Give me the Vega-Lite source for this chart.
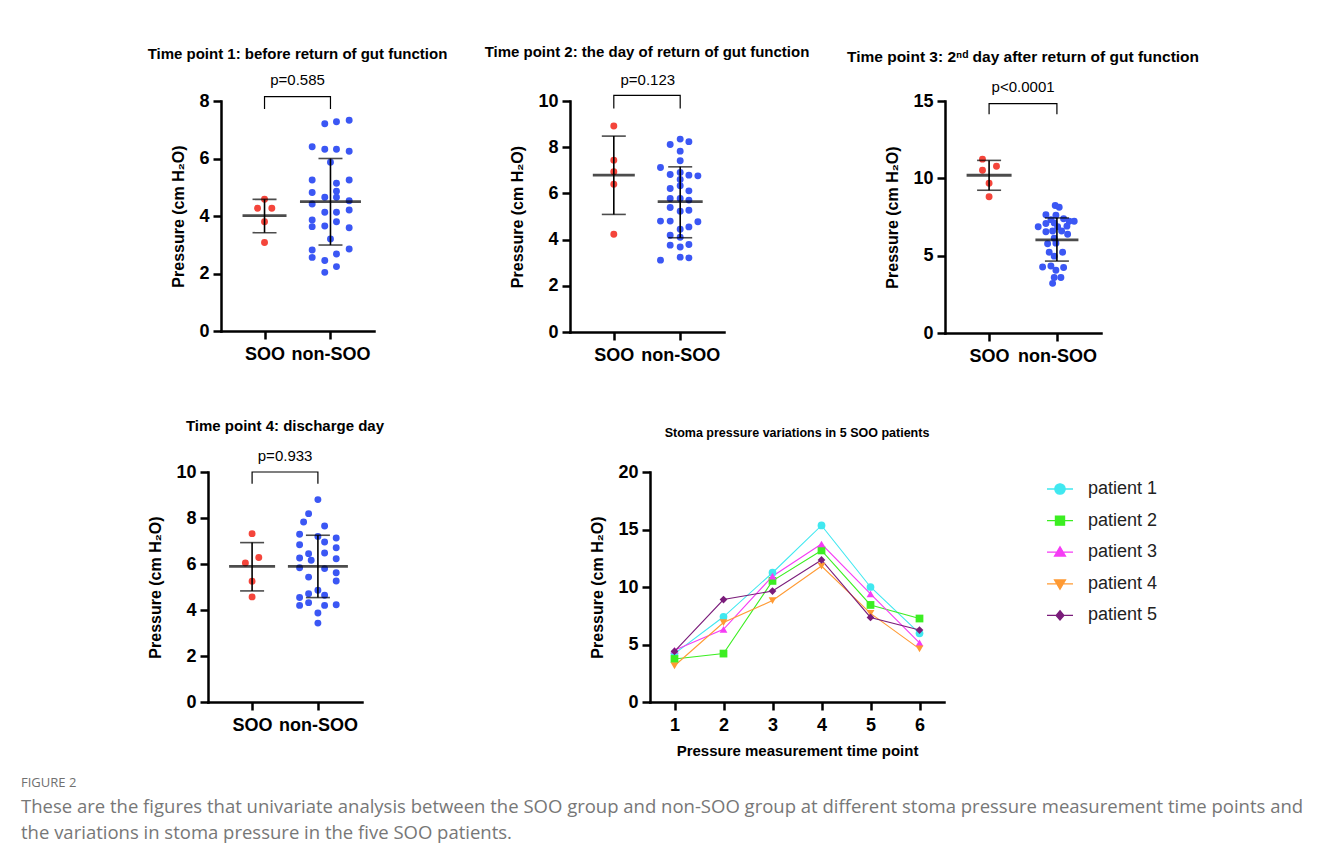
{
  "$schema": "https://vega.github.io/schema/vega-lite/v6.json",
  "background": "white",
  "padding": {"left": 21, "top": 44, "right": 5, "bottom": 5},
  "title": {
    "text": "FIGURE 2",
    "subtitle": ["These are the figures that univariate analysis between the SOO group and non-SOO group at different stoma pressure measurement time points and", "the variations in stoma pressure in the five SOO patients."],
    "orient": "bottom", "anchor": "start", "frame": "bounds", "dx": -125, "offset": 19,
    "font": "Open Sans", "fontSize": 13, "fontWeight": "normal", "color": "#707070",
    "subtitleFont": "Open Sans", "subtitleFontSize": 18.5, "subtitleColor": "#777777", "subtitleLineHeight": 26, "subtitlePadding": 8
  },
  "datasets": {
    "p1": [
      {"group": "SOO", "col": 0, "value": 4.58}, {"group": "SOO", "col": -0.7, "value": 4.27}, {"group": "SOO", "col": 0.73, "value": 4.27}, {"group": "SOO", "col": 0, "value": 3.8}, {"group": "SOO", "col": 0, "value": 3.08},
      {"group": "non-SOO", "col": -0.57, "value": 7.21}, {"group": "non-SOO", "col": 0.6, "value": 7.28}, {"group": "non-SOO", "col": 1.87, "value": 7.33},
      {"group": "non-SOO", "col": -1.83, "value": 6.41}, {"group": "non-SOO", "col": -0.57, "value": 6.32}, {"group": "non-SOO", "col": 0.6, "value": 6.32}, {"group": "non-SOO", "col": 1.87, "value": 6.25},
      {"group": "non-SOO", "col": 0, "value": 5.87},
      {"group": "non-SOO", "col": -1.83, "value": 5.25}, {"group": "non-SOO", "col": 0.6, "value": 5.14}, {"group": "non-SOO", "col": 1.87, "value": 5.25},
      {"group": "non-SOO", "col": -1.83, "value": 4.82}, {"group": "non-SOO", "col": 0.6, "value": 4.86},
      {"group": "non-SOO", "col": -0.57, "value": 4.65}, {"group": "non-SOO", "col": 0.6, "value": 4.65},
      {"group": "non-SOO", "col": -1.83, "value": 4.42}, {"group": "non-SOO", "col": 1.87, "value": 4.53},
      {"group": "non-SOO", "col": 1.87, "value": 4.21}, {"group": "non-SOO", "col": -0.57, "value": 4.13}, {"group": "non-SOO", "col": 0.6, "value": 4.13},
      {"group": "non-SOO", "col": -1.83, "value": 3.86}, {"group": "non-SOO", "col": 0.6, "value": 3.8},
      {"group": "non-SOO", "col": -1.83, "value": 3.63}, {"group": "non-SOO", "col": -0.57, "value": 3.65}, {"group": "non-SOO", "col": 1.87, "value": 3.59},
      {"group": "non-SOO", "col": 0, "value": 3.2},
      {"group": "non-SOO", "col": -1.83, "value": 2.82}, {"group": "non-SOO", "col": 1.87, "value": 2.85},
      {"group": "non-SOO", "col": -1.83, "value": 2.56}, {"group": "non-SOO", "col": 0.6, "value": 2.68},
      {"group": "non-SOO", "col": -0.57, "value": 2.45}, {"group": "non-SOO", "col": 0.6, "value": 2.24}, {"group": "non-SOO", "col": -0.57, "value": 2.04}
    ],
    "p1s": [{"group": "SOO", "mean": 4.01, "lo": 3.42, "hi": 4.58}, {"group": "non-SOO", "mean": 4.5, "lo": 2.99, "hi": 6.0}],
    "p1b": [{"group": "SOO", "level": 7.72, "ord": 1}, {"group": "SOO", "level": 8.15, "ord": 2}, {"group": "non-SOO", "level": 8.15, "ord": 3}, {"group": "non-SOO", "level": 7.72, "ord": 4}],
    "p1t": [{"group": "SOO", "level": 8.73, "label": "p=0.585"}],
    "p2": [
      {"group": "SOO", "col": 0, "value": 8.92}, {"group": "SOO", "col": 0, "value": 7.44}, {"group": "SOO", "col": 0, "value": 6.94}, {"group": "SOO", "col": 0, "value": 6.4}, {"group": "SOO", "col": 0, "value": 4.23},
      {"group": "non-SOO", "col": 0, "value": 8.35}, {"group": "non-SOO", "col": 0.87, "value": 8.24}, {"group": "non-SOO", "col": -1.0, "value": 8.12}, {"group": "non-SOO", "col": 0, "value": 7.83},
      {"group": "non-SOO", "col": 0, "value": 7.41},
      {"group": "non-SOO", "col": -1.97, "value": 7.12}, {"group": "non-SOO", "col": -1.0, "value": 6.82}, {"group": "non-SOO", "col": 0, "value": 6.91}, {"group": "non-SOO", "col": 0.87, "value": 6.79}, {"group": "non-SOO", "col": 1.77, "value": 6.76},
      {"group": "non-SOO", "col": 0, "value": 6.6},
      {"group": "non-SOO", "col": 0, "value": 6.33}, {"group": "non-SOO", "col": -1.0, "value": 6.21}, {"group": "non-SOO", "col": 0.87, "value": 6.11},
      {"group": "non-SOO", "col": -1.0, "value": 5.78}, {"group": "non-SOO", "col": 0, "value": 5.78}, {"group": "non-SOO", "col": 0.87, "value": 5.71},
      {"group": "non-SOO", "col": -1.0, "value": 5.39}, {"group": "non-SOO", "col": 0.87, "value": 5.27}, {"group": "non-SOO", "col": 0, "value": 5.23},
      {"group": "non-SOO", "col": -1.97, "value": 4.8}, {"group": "non-SOO", "col": -1.0, "value": 4.8}, {"group": "non-SOO", "col": 1.77, "value": 4.77},
      {"group": "non-SOO", "col": 0, "value": 4.45}, {"group": "non-SOO", "col": 0.87, "value": 4.55},
      {"group": "non-SOO", "col": -1.0, "value": 4.19}, {"group": "non-SOO", "col": 0, "value": 4.1},
      {"group": "non-SOO", "col": -1.0, "value": 3.76}, {"group": "non-SOO", "col": 0, "value": 3.68}, {"group": "non-SOO", "col": 0.87, "value": 3.79},
      {"group": "non-SOO", "col": -1.97, "value": 3.11}, {"group": "non-SOO", "col": 0, "value": 3.24}, {"group": "non-SOO", "col": 0.87, "value": 3.21}
    ],
    "p2s": [{"group": "SOO", "mean": 6.79, "lo": 5.09, "hi": 8.48}, {"group": "non-SOO", "mean": 5.64, "lo": 4.08, "hi": 7.15}],
    "p2b": [{"group": "SOO", "level": 9.68, "ord": 1}, {"group": "SOO", "level": 10.24, "ord": 2}, {"group": "non-SOO", "level": 10.24, "ord": 3}, {"group": "non-SOO", "level": 9.68, "ord": 4}],
    "p2t": [{"group": "SOO", "level": 10.91, "label": "p=0.123"}],
    "p3": [
      {"group": "SOO", "col": -0.66, "value": 11.24}, {"group": "SOO", "col": -0.66, "value": 10.52}, {"group": "SOO", "col": 0.74, "value": 10.78}, {"group": "SOO", "col": 0, "value": 9.68}, {"group": "SOO", "col": 0, "value": 8.81},
      {"group": "non-SOO", "col": -0.17, "value": 8.24}, {"group": "non-SOO", "col": 0.23, "value": 8.13},
      {"group": "non-SOO", "col": -1.1, "value": 7.65}, {"group": "non-SOO", "col": -0.1, "value": 7.61},
      {"group": "non-SOO", "col": -0.6, "value": 7.33}, {"group": "non-SOO", "col": 0.67, "value": 7.39}, {"group": "non-SOO", "col": 1.73, "value": 7.23}, {"group": "non-SOO", "col": 1.23, "value": 7.23},
      {"group": "non-SOO", "col": -1.1, "value": 7.08}, {"group": "non-SOO", "col": -0.27, "value": 7.12},
      {"group": "non-SOO", "col": -1.87, "value": 6.87}, {"group": "non-SOO", "col": 0.07, "value": 6.87}, {"group": "non-SOO", "col": 1.0, "value": 6.91},
      {"group": "non-SOO", "col": -1.1, "value": 6.55}, {"group": "non-SOO", "col": -0.43, "value": 6.59}, {"group": "non-SOO", "col": 0.47, "value": 6.59},
      {"group": "non-SOO", "col": 1.07, "value": 6.38},
      {"group": "non-SOO", "col": -0.27, "value": 6.13},
      {"group": "non-SOO", "col": -0.93, "value": 5.77}, {"group": "non-SOO", "col": -0.1, "value": 5.81},
      {"group": "non-SOO", "col": -0.77, "value": 5.22}, {"group": "non-SOO", "col": 0.57, "value": 5.22},
      {"group": "non-SOO", "col": -0.27, "value": 4.97},
      {"group": "non-SOO", "col": -0.6, "value": 4.33}, {"group": "non-SOO", "col": -1.43, "value": 4.27}, {"group": "non-SOO", "col": 0.67, "value": 4.23},
      {"group": "non-SOO", "col": -0.1, "value": 4.06},
      {"group": "non-SOO", "col": -0.27, "value": 3.59}, {"group": "non-SOO", "col": 0.4, "value": 3.59},
      {"group": "non-SOO", "col": -0.43, "value": 3.21}
    ],
    "p3s": [{"group": "SOO", "mean": 10.2, "lo": 9.23, "hi": 11.16}, {"group": "non-SOO", "mean": 6.02, "lo": 4.65, "hi": 7.44}],
    "p3b": [{"group": "SOO", "level": 14.15, "ord": 1}, {"group": "SOO", "level": 14.83, "ord": 2}, {"group": "non-SOO", "level": 14.83, "ord": 3}, {"group": "non-SOO", "level": 14.15, "ord": 4}],
    "p3t": [{"group": "SOO", "level": 15.88, "label": "p<0.0001"}],
    "p4": [
      {"group": "SOO", "col": 0, "value": 7.32}, {"group": "SOO", "col": -0.67, "value": 6.04}, {"group": "SOO", "col": 0.67, "value": 6.28}, {"group": "SOO", "col": 0, "value": 5.25}, {"group": "SOO", "col": 0, "value": 4.57},
      {"group": "non-SOO", "col": 0, "value": 8.8},
      {"group": "non-SOO", "col": -0.93, "value": 8.19},
      {"group": "non-SOO", "col": -1.43, "value": 7.83}, {"group": "non-SOO", "col": 0.67, "value": 7.65},
      {"group": "non-SOO", "col": -1.83, "value": 7.29}, {"group": "non-SOO", "col": 0, "value": 7.2}, {"group": "non-SOO", "col": 1.83, "value": 7.13},
      {"group": "non-SOO", "col": -1.83, "value": 6.84}, {"group": "non-SOO", "col": 0.67, "value": 6.96},
      {"group": "non-SOO", "col": 1.83, "value": 6.71},
      {"group": "non-SOO", "col": -0.93, "value": 6.45}, {"group": "non-SOO", "col": 0.67, "value": 6.48},
      {"group": "non-SOO", "col": -1.83, "value": 6.26}, {"group": "non-SOO", "col": 1.83, "value": 6.23},
      {"group": "non-SOO", "col": -0.67, "value": 6.16},
      {"group": "non-SOO", "col": 0.67, "value": 5.8}, {"group": "non-SOO", "col": -1.83, "value": 5.84}, {"group": "non-SOO", "col": 1.83, "value": 5.62},
      {"group": "non-SOO", "col": -0.93, "value": 5.43}, {"group": "non-SOO", "col": 1.83, "value": 5.26},
      {"group": "non-SOO", "col": 0, "value": 4.86},
      {"group": "non-SOO", "col": -0.93, "value": 4.71},
      {"group": "non-SOO", "col": -1.83, "value": 4.54}, {"group": "non-SOO", "col": 0.67, "value": 4.64},
      {"group": "non-SOO", "col": -0.93, "value": 4.32},
      {"group": "non-SOO", "col": -1.83, "value": 4.2}, {"group": "non-SOO", "col": 0.67, "value": 4.2}, {"group": "non-SOO", "col": 1.83, "value": 4.23},
      {"group": "non-SOO", "col": 0, "value": 3.87},
      {"group": "non-SOO", "col": 0, "value": 3.43}
    ],
    "p4s": [{"group": "SOO", "mean": 5.9, "lo": 4.83, "hi": 6.93}, {"group": "non-SOO", "mean": 5.9, "lo": 4.54, "hi": 7.25}],
    "p4b": [{"group": "SOO", "level": 9.49, "ord": 1}, {"group": "SOO", "level": 10.0, "ord": 2}, {"group": "non-SOO", "level": 10.0, "ord": 3}, {"group": "non-SOO", "level": 9.49, "ord": 4}],
    "p4t": [{"group": "SOO", "level": 10.68, "label": "p=0.933"}],
    "p5": [
      {"patient": "patient 1", "id": 1, "time": 1, "value": 4.21}, {"patient": "patient 1", "id": 1, "time": 2, "value": 7.41}, {"patient": "patient 1", "id": 1, "time": 3, "value": 11.24}, {"patient": "patient 1", "id": 1, "time": 4, "value": 15.35}, {"patient": "patient 1", "id": 1, "time": 5, "value": 10.0}, {"patient": "patient 1", "id": 1, "time": 6, "value": 5.97},
      {"patient": "patient 2", "id": 2, "time": 1, "value": 3.74}, {"patient": "patient 2", "id": 2, "time": 2, "value": 4.21}, {"patient": "patient 2", "id": 2, "time": 3, "value": 10.53}, {"patient": "patient 2", "id": 2, "time": 4, "value": 13.18}, {"patient": "patient 2", "id": 2, "time": 5, "value": 8.44}, {"patient": "patient 2", "id": 2, "time": 6, "value": 7.26},
      {"patient": "patient 3", "id": 3, "time": 1, "value": 4.5}, {"patient": "patient 3", "id": 3, "time": 2, "value": 6.32}, {"patient": "patient 3", "id": 3, "time": 3, "value": 10.94}, {"patient": "patient 3", "id": 3, "time": 4, "value": 13.74}, {"patient": "patient 3", "id": 3, "time": 5, "value": 9.41}, {"patient": "patient 3", "id": 3, "time": 6, "value": 5.15},
      {"patient": "patient 4", "id": 4, "time": 1, "value": 3.15}, {"patient": "patient 4", "id": 4, "time": 2, "value": 6.91}, {"patient": "patient 4", "id": 4, "time": 3, "value": 8.82}, {"patient": "patient 4", "id": 4, "time": 4, "value": 11.82}, {"patient": "patient 4", "id": 4, "time": 5, "value": 7.71}, {"patient": "patient 4", "id": 4, "time": 6, "value": 4.62},
      {"patient": "patient 5", "id": 5, "time": 1, "value": 4.41}, {"patient": "patient 5", "id": 5, "time": 2, "value": 8.91}, {"patient": "patient 5", "id": 5, "time": 3, "value": 9.65}, {"patient": "patient 5", "id": 5, "time": 4, "value": 12.35}, {"patient": "patient 5", "id": 5, "time": 5, "value": 7.35}, {"patient": "patient 5", "id": 5, "time": 6, "value": 6.26}
    ]
  },
  "columns": 1,
  "align": "none",
  "spacing": 54,
  "concat": [
    {
      "spacing": 0,
      "hconcat": [
        {"width": 1, "height": 1, "data": {"values": []}, "mark": "point", "encoding": {}},
        {
          "spacing": 36,
          "hconcat": [
            {
              "width": 153, "height": 230,
              "title": {"text": "Time point 1: before return of gut function", "frame": "group", "offset": 11},
              "layer": [
                {"data": {"name": "p1"}, "mark": {"type": "circle", "size": 48, "opacity": 1},
                 "encoding": {
                   "x": {"field": "group", "type": "nominal", "scale": {"type": "point", "domain": ["SOO", "non-SOO"], "padding": 0.66}, "axis": {"title": null, "labelAngle": 0, "labelPadding": 6}},
                   "xOffset": {"field": "col", "type": "quantitative", "scale": {"domain": [-1, 1], "range": [-10, 10]}},
                   "y": {"field": "value", "type": "quantitative", "scale": {"domain": [0, 8], "nice": false}, "axis": {"values": [0, 2, 4, 6, 8], "title": "Pressure  (cm H₂O)"}},
                   "color": {"condition": {"test": "datum.group === 'SOO'", "value": "#F4453B"}, "value": "#3B57F4"}}},
                {"data": {"name": "p1s"}, "mark": {"type": "rule", "color": "black", "strokeWidth": 1.6},
                 "encoding": {"x": {"field": "group", "type": "nominal"}, "y": {"field": "lo", "type": "quantitative"}, "y2": {"field": "hi"}}},
                {"data": {"name": "p1s"}, "mark": {"type": "tick", "color": "black", "thickness": 2.8},
                 "encoding": {"x": {"field": "group", "type": "nominal"}, "y": {"field": "mean", "type": "quantitative"}, "size": {"condition": {"test": "datum.group === 'non-SOO'", "value": 61}, "value": 44}}},
                {"data": {"name": "p1s"}, "mark": {"type": "tick", "color": "black", "thickness": 1.6, "size": 24},
                 "encoding": {"x": {"field": "group", "type": "nominal"}, "y": {"field": "lo", "type": "quantitative"}}},
                {"data": {"name": "p1s"}, "mark": {"type": "tick", "color": "black", "thickness": 1.6, "size": 24},
                 "encoding": {"x": {"field": "group", "type": "nominal"}, "y": {"field": "hi", "type": "quantitative"}}},
                {"data": {"name": "p1b"}, "mark": {"type": "line", "color": "black", "strokeWidth": 1.2},
                 "encoding": {"x": {"field": "group", "type": "nominal"}, "y": {"field": "level", "type": "quantitative"}, "order": {"field": "ord"}}},
                {"data": {"name": "p1t"}, "mark": {"type": "text", "dx": 33, "fontSize": 15, "font": "Liberation Sans", "baseline": "middle", "color": "black"},
                 "encoding": {"x": {"field": "group", "type": "nominal"}, "y": {"field": "level", "type": "quantitative"}, "text": {"field": "label"}}}
              ]
            },
            {
              "width": 154, "height": 231,
              "title": {"text": "Time point 2: the day of return of gut function", "frame": "group", "offset": 13},
              "layer": [
                {"data": {"name": "p2"}, "mark": {"type": "circle", "size": 48, "opacity": 1},
                 "encoding": {
                   "x": {"field": "group", "type": "nominal", "scale": {"type": "point", "domain": ["SOO", "non-SOO"], "padding": 0.66}, "axis": {"title": null, "labelAngle": 0, "labelPadding": 6}},
                   "xOffset": {"field": "col", "type": "quantitative", "scale": {"domain": [-1, 1], "range": [-10, 10]}},
                   "y": {"field": "value", "type": "quantitative", "scale": {"domain": [0, 10], "nice": false}, "axis": {"values": [0, 2, 4, 6, 8, 10], "title": "Pressure  (cm H₂O)"}},
                   "color": {"condition": {"test": "datum.group === 'SOO'", "value": "#F4453B"}, "value": "#3B57F4"}}},
                {"data": {"name": "p2s"}, "mark": {"type": "rule", "color": "black", "strokeWidth": 1.6},
                 "encoding": {"x": {"field": "group", "type": "nominal"}, "y": {"field": "lo", "type": "quantitative"}, "y2": {"field": "hi"}}},
                {"data": {"name": "p2s"}, "mark": {"type": "tick", "color": "black", "thickness": 2.8},
                 "encoding": {"x": {"field": "group", "type": "nominal"}, "y": {"field": "mean", "type": "quantitative"}, "size": {"condition": {"test": "datum.group === 'non-SOO'", "value": 45}, "value": 42}}},
                {"data": {"name": "p2s"}, "mark": {"type": "tick", "color": "black", "thickness": 1.6, "size": 24},
                 "encoding": {"x": {"field": "group", "type": "nominal"}, "y": {"field": "lo", "type": "quantitative"}}},
                {"data": {"name": "p2s"}, "mark": {"type": "tick", "color": "black", "thickness": 1.6, "size": 24},
                 "encoding": {"x": {"field": "group", "type": "nominal"}, "y": {"field": "hi", "type": "quantitative"}}},
                {"data": {"name": "p2b"}, "mark": {"type": "line", "color": "black", "strokeWidth": 1.2},
                 "encoding": {"x": {"field": "group", "type": "nominal"}, "y": {"field": "level", "type": "quantitative"}, "order": {"field": "ord"}}},
                {"data": {"name": "p2t"}, "mark": {"type": "text", "dx": 34, "fontSize": 15, "font": "Liberation Sans", "baseline": "middle", "color": "black"},
                 "encoding": {"x": {"field": "group", "type": "nominal"}, "y": {"field": "level", "type": "quantitative"}, "text": {"field": "label"}}}
              ]
            },
            {
              "width": 156, "height": 232,
              "title": {"text": "Time point 3: 2ⁿᵈ day after return of gut function", "frame": "group", "offset": 15, "fontSize": 15.5},
              "layer": [
                {"data": {"name": "p3"}, "mark": {"type": "circle", "size": 48, "opacity": 1},
                 "encoding": {
                   "x": {"field": "group", "type": "nominal", "scale": {"type": "point", "domain": ["SOO", "non-SOO"], "padding": 0.65}, "axis": {"title": null, "labelAngle": 0, "labelPadding": 6}},
                   "xOffset": {"field": "col", "type": "quantitative", "scale": {"domain": [-1, 1], "range": [-10, 10]}},
                   "y": {"field": "value", "type": "quantitative", "scale": {"domain": [0, 15], "nice": false}, "axis": {"values": [0, 5, 10, 15], "title": "Pressure  (cm H₂O)"}},
                   "color": {"condition": {"test": "datum.group === 'SOO'", "value": "#F4453B"}, "value": "#3B57F4"}}},
                {"data": {"name": "p3s"}, "mark": {"type": "rule", "color": "black", "strokeWidth": 1.6},
                 "encoding": {"x": {"field": "group", "type": "nominal"}, "y": {"field": "lo", "type": "quantitative"}, "y2": {"field": "hi"}}},
                {"data": {"name": "p3s"}, "mark": {"type": "tick", "color": "black", "thickness": 2.8},
                 "encoding": {"x": {"field": "group", "type": "nominal"}, "y": {"field": "mean", "type": "quantitative"}, "size": {"condition": {"test": "datum.group === 'non-SOO'", "value": 43}, "value": 45}}},
                {"data": {"name": "p3s"}, "mark": {"type": "tick", "color": "black", "thickness": 1.6, "size": 24},
                 "encoding": {"x": {"field": "group", "type": "nominal"}, "y": {"field": "lo", "type": "quantitative"}}},
                {"data": {"name": "p3s"}, "mark": {"type": "tick", "color": "black", "thickness": 1.6, "size": 24},
                 "encoding": {"x": {"field": "group", "type": "nominal"}, "y": {"field": "hi", "type": "quantitative"}}},
                {"data": {"name": "p3b"}, "mark": {"type": "line", "color": "black", "strokeWidth": 1.2},
                 "encoding": {"x": {"field": "group", "type": "nominal"}, "y": {"field": "level", "type": "quantitative"}, "order": {"field": "ord"}}},
                {"data": {"name": "p3t"}, "mark": {"type": "text", "dx": 34, "fontSize": 15, "font": "Liberation Sans", "baseline": "middle", "color": "black"},
                 "encoding": {"x": {"field": "group", "type": "nominal"}, "y": {"field": "level", "type": "quantitative"}, "text": {"field": "label"}}}
              ]
            }
          ]
        }
      ]
    },
    {
      "spacing": 0,
      "hconcat": [
        {"width": 1, "height": 1, "data": {"values": []}, "mark": "point", "encoding": {}},
        {
          "spacing": 204,
          "hconcat": [
            {
              "width": 154, "height": 230,
              "title": {"text": "Time point 4: discharge day", "frame": "group", "offset": 15},
              "layer": [
                {"data": {"name": "p4"}, "mark": {"type": "circle", "size": 48, "opacity": 1},
                 "encoding": {
                   "x": {"field": "group", "type": "nominal", "scale": {"type": "point", "domain": ["SOO", "non-SOO"], "padding": 0.67}, "axis": {"title": null, "labelAngle": 0, "labelPadding": 6}},
                   "xOffset": {"field": "col", "type": "quantitative", "scale": {"domain": [-1, 1], "range": [-10, 10]}},
                   "y": {"field": "value", "type": "quantitative", "scale": {"domain": [0, 10], "nice": false}, "axis": {"values": [0, 2, 4, 6, 8, 10], "title": "Pressure  (cm H₂O)"}},
                   "color": {"condition": {"test": "datum.group === 'SOO'", "value": "#F4453B"}, "value": "#3B57F4"}}},
                {"data": {"name": "p4s"}, "mark": {"type": "rule", "color": "black", "strokeWidth": 1.6},
                 "encoding": {"x": {"field": "group", "type": "nominal"}, "y": {"field": "lo", "type": "quantitative"}, "y2": {"field": "hi"}}},
                {"data": {"name": "p4s"}, "mark": {"type": "tick", "color": "black", "thickness": 2.8},
                 "encoding": {"x": {"field": "group", "type": "nominal"}, "y": {"field": "mean", "type": "quantitative"}, "size": {"condition": {"test": "datum.group === 'non-SOO'", "value": 60}, "value": 46}}},
                {"data": {"name": "p4s"}, "mark": {"type": "tick", "color": "black", "thickness": 1.6, "size": 24},
                 "encoding": {"x": {"field": "group", "type": "nominal"}, "y": {"field": "lo", "type": "quantitative"}}},
                {"data": {"name": "p4s"}, "mark": {"type": "tick", "color": "black", "thickness": 1.6, "size": 24},
                 "encoding": {"x": {"field": "group", "type": "nominal"}, "y": {"field": "hi", "type": "quantitative"}}},
                {"data": {"name": "p4b"}, "mark": {"type": "line", "color": "black", "strokeWidth": 1.2},
                 "encoding": {"x": {"field": "group", "type": "nominal"}, "y": {"field": "level", "type": "quantitative"}, "order": {"field": "ord"}}},
                {"data": {"name": "p4t"}, "mark": {"type": "text", "dx": 33, "fontSize": 15, "font": "Liberation Sans", "baseline": "middle", "color": "black"},
                 "encoding": {"x": {"field": "group", "type": "nominal"}, "y": {"field": "level", "type": "quantitative"}, "text": {"field": "label"}}}
              ]
            },
            {
              "width": 294, "height": 230,
              "title": {"text": "Stoma pressure variations in 5 SOO patients", "frame": "group", "offset": 24, "fontSize": 12.5},
              "data": {"name": "p5"},
              "encoding": {
                "x": {"field": "time", "type": "quantitative", "scale": {"domain": [0.5, 6.5], "nice": false}, "axis": {"values": [1, 2, 3, 4, 5, 6], "title": "Pressure measurement time point", "titleFontSize": 15, "titlePadding": 9, "labelPadding": 6}},
                "y": {"field": "value", "type": "quantitative", "scale": {"domain": [0, 20], "nice": false}, "axis": {"values": [0, 5, 10, 15, 20], "title": "Pressure  (cm H₂O)"}},
                "color": {"field": "patient", "type": "nominal", "scale": {"domain": ["patient 1", "patient 2", "patient 3", "patient 4", "patient 5"], "range": ["#40E8F0", "#3CEE22", "#F53CF5", "#FF9A33", "#7A1C7A"]},
                  "legend": {"title": null, "orient": "none", "legendX": 900, "legendY": 374, "padding": 0, "symbolSize": 676, "symbolStrokeWidth": 1.3, "labelFontSize": 18, "labelFont": "Liberation Sans", "labelFontWeight": "normal", "labelColor": "#222222", "labelOffset": 14, "rowPadding": 8.6,
                    "encode": {"symbols": {"update": {
                      "shape": {"signal": "datum.value === 'patient 1' ? 'M-1,0H1M0.4,0A0.4,0.4 0 1,1 -0.4,0A0.4,0.4 0 1,1 0.4,0Z' : datum.value === 'patient 2' ? 'M-1,0H1M-0.35,-0.35H0.35V0.35H-0.35Z' : datum.value === 'patient 3' ? 'M-1,0H1M0,-0.42L0.42,0.3H-0.42Z' : datum.value === 'patient 4' ? 'M-1,0H1M0,0.42L0.42,-0.3H-0.42Z' : 'M-1,0H1M0,-0.36L0.3,0L0,0.36L-0.3,0Z'"},
                      "stroke": {"signal": "datum.value === 'patient 1' ? '#40E8F0' : datum.value === 'patient 2' ? '#3CEE22' : datum.value === 'patient 3' ? '#F53CF5' : datum.value === 'patient 4' ? '#FF9A33' : '#7A1C7A'"},
                      "fill": {"signal": "datum.value === 'patient 1' ? '#40E8F0' : datum.value === 'patient 2' ? '#3CEE22' : datum.value === 'patient 3' ? '#F53CF5' : datum.value === 'patient 4' ? '#FF9A33' : '#7A1C7A'"},
                      "strokeWidth": {"value": 1.3},
                      "opacity": {"value": 1}
                    }}}}}
              },
              "layer": [
                {"mark": {"type": "line", "strokeWidth": 1.1}},
                {"mark": {"type": "point", "filled": true, "size": 60, "opacity": 1},
                 "encoding": {"shape": {"field": "id", "type": "nominal", "scale": {"domain": [1, 2, 3, 4, 5], "range": ["circle", "square", "triangle-up", "triangle-down", "diamond"]}, "legend": null}}}
              ]
            }
          ]
        }
      ]
    }
  ],
  "config": {
    "view": {"stroke": null},
    "font": "Liberation Sans",
    "title": {"font": "Liberation Sans", "fontSize": 15, "fontWeight": "bold", "color": "black", "anchor": "middle"},
    "axis": {"domainColor": "black", "domainWidth": 2.5, "tickColor": "black", "tickWidth": 2.5, "tickSize": 8, "grid": false,
      "labelFont": "Liberation Sans", "labelFontWeight": "bold", "labelFontSize": 18, "labelColor": "black", "labelPadding": 4,
      "titleFont": "Liberation Sans", "titleFontWeight": "bold", "titleFontSize": 16, "titleColor": "black", "titlePadding": 12, "domainCap": "square"}
  }
}
